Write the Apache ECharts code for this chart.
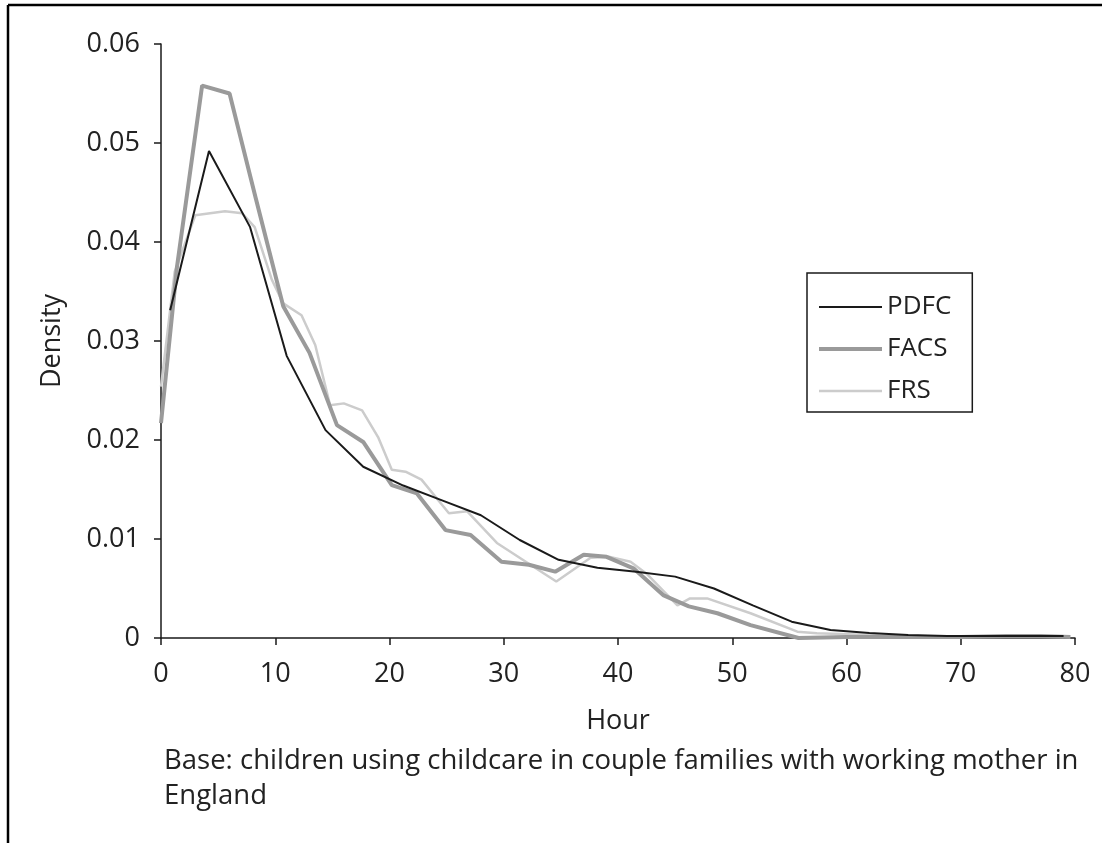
<!DOCTYPE html>
<html>
<head>
<meta charset="utf-8">
<script src="https://cdn.jsdelivr.net/npm/echarts@6/dist/echarts.min.js"></script>
<style>
html,body{margin:0;padding:0;background:#fff;}
#chart{width:1102px;height:843px;}
</style>
</head>
<body>
<div id="chart"></div>
<script>
const seriesNames = ['PDFC', 'FACS', 'FRS'];

const pdfcHours   = [0.8, 4.2, 7.8, 11.0, 14.4, 17.7, 21.2, 24.6, 28.0, 31.4, 34.8, 38.2, 41.6, 45.0, 48.4, 51.8, 55.2, 58.6, 62.0, 65.4, 68.8, 72.2, 75.6, 79.0];
const pdfcDensity = [0.0331, 0.0492, 0.0415, 0.0285, 0.0210, 0.0173, 0.0154, 0.0139, 0.0124, 0.0099, 0.0079, 0.0071, 0.0067, 0.0062, 0.0050, 0.0033, 0.00165, 0.0008, 0.0005, 0.0003, 0.0002, 0.0002, 0.0002, 0.0002];

const facsHours   = [0, 1.4, 3.6, 6.0, 8.3, 10.7, 13.0, 15.4, 17.7, 20.2, 22.4, 24.9, 27.1, 29.8, 32.2, 34.5, 37.0, 39.0, 41.4, 44.0, 46.2, 48.7, 51.6, 55.8, 60.0, 65.0, 70.0, 74.0, 77.0, 79.6];
const facsDensity = [0.0217, 0.0375, 0.0558, 0.0550, 0.0444, 0.0335, 0.0288, 0.0215, 0.0198, 0.01545, 0.0146, 0.0109, 0.0104, 0.0077, 0.0074, 0.0067, 0.0084, 0.0082, 0.0070, 0.0043, 0.0032, 0.0025, 0.0013, 0.0000, 0.0001, 0.0001, 0.0001, 0.0002, 0.0002, 0.0001];

const frsHours   = [0, 1.2, 3.0, 5.6, 7.1, 8.2, 9.7, 10.7, 12.3, 13.5, 14.8, 16.0, 17.6, 19.0, 20.2, 21.4, 22.8, 25.2, 26.8, 29.4, 32.2, 34.6, 37.6, 39.2, 41.1, 42.5, 45.2, 46.3, 47.8, 51.6, 55.7, 57.4, 62.1, 66.0, 70.0, 75.0, 79.0];
const frsDensity = [0.0254, 0.0370, 0.0427, 0.0431, 0.0429, 0.0415, 0.0362, 0.0338, 0.0326, 0.0296, 0.0235, 0.0237, 0.0230, 0.0203, 0.0170, 0.0168, 0.0160, 0.0126, 0.0128, 0.0096, 0.0075, 0.0057, 0.0081, 0.0082, 0.0077, 0.0065, 0.0033, 0.0040, 0.0040, 0.0025, 0.00064, 0.00047, 0.0003, 0.0001, 0.0001, 0.0001, 0.0001];

const xTicks = { min: 0, max: 80, interval: 10 };
const yTicks = { min: 0, max: 0.06, interval: 0.01 };

const xTitle = 'Hour';
const yTitle = 'Density';
const noteText = 'Base: children using childcare in couple families with working mother in\nEngland';

function pairs(xs, ys) { return xs.map((x, i) => [x, ys[i]]); }

const FONT = '"Open Sans", "Noto Sans", sans-serif';
const chart = echarts.init(document.getElementById('chart'), null, { renderer: 'canvas' });

const seriesColors = { PDFC: '#1a1a1a', FACS: '#9a9a9a', FRS: '#cccccc' };
const seriesWidths = { PDFC: 2, FACS: 4, FRS: 2.5 };

// legend icon: a horizontal bar of the series' line thickness, centred in a 63x14 box
function lineIcon(w) {
  const h = 14, a = (h - w) / 2, b = (h + w) / 2;
  return 'path://M0,0H63V0.01H0Z M0,' + a + 'H63V' + b + 'H0Z M0,13.99H63V14H0Z';
}

const option = {
  backgroundColor: '#ffffff',
  animation: false,
  grid: { left: 161, right: 27, top: 44, bottom: 205, containLabel: false },
  legend: {
    show: true,
    orient: 'vertical',
    left: 807, top: 273,
    padding: [19, 21, 6, 12],
    itemGap: 12,
    itemWidth: 63,
    itemHeight: 14,
    borderColor: '#1a1a1a',
    borderWidth: 1.5,
    textStyle: { fontFamily: FONT, fontSize: 26, lineHeight: 30, color: '#222' },
    data: seriesNames.map(n => ({ name: n, icon: lineIcon(seriesWidths[n]) }))
  },
  xAxis: {
    type: 'value',
    min: xTicks.min, max: xTicks.max, interval: xTicks.interval,
    name: xTitle, nameLocation: 'middle', nameGap: 70,
    nameTextStyle: { fontFamily: FONT, fontSize: 27, color: '#222' },
    axisLine: { lineStyle: { color: '#1a1a1a', width: 1.5 } },
    axisTick: { show: true, length: 7, lineStyle: { color: '#1a1a1a', width: 1.5 } },
    axisLabel: { fontFamily: FONT, fontSize: 27, color: '#222', margin: 23 },
    splitLine: { show: false }
  },
  yAxis: {
    type: 'value',
    min: yTicks.min, max: yTicks.max, interval: yTicks.interval,
    name: yTitle, nameLocation: 'middle', nameGap: 95, nameRotate: 90,
    nameTextStyle: { fontFamily: FONT, fontSize: 27, color: '#222' },
    axisLine: { show: true, lineStyle: { color: '#1a1a1a', width: 1.5 } },
    axisTick: { show: true, length: 7, lineStyle: { color: '#1a1a1a', width: 1.5 } },
    axisLabel: { fontFamily: FONT, fontSize: 27, color: '#222', margin: 21 },
    splitLine: { show: false }
  },
  series: [
    { name: 'PDFC', type: 'line', data: pairs(pdfcHours, pdfcDensity), symbol: 'none',
      lineStyle: { color: seriesColors.PDFC, width: seriesWidths.PDFC }, itemStyle: { color: seriesColors.PDFC }, z: 4 },
    { name: 'FACS', type: 'line', data: pairs(facsHours, facsDensity), symbol: 'none',
      lineStyle: { color: seriesColors.FACS, width: seriesWidths.FACS }, itemStyle: { color: seriesColors.FACS }, z: 3 },
    { name: 'FRS', type: 'line', data: pairs(frsHours, frsDensity), symbol: 'none',
      lineStyle: { color: seriesColors.FRS, width: seriesWidths.FRS }, itemStyle: { color: seriesColors.FRS }, z: 2 }
  ],
  graphic: [
    { type: 'line', shape: { x1: 8, y1: 5, x2: 1102, y2: 5 }, style: { stroke: '#000', lineWidth: 2.5 } },
    { type: 'line', shape: { x1: 8, y1: 5, x2: 8, y2: 843 }, style: { stroke: '#000', lineWidth: 2.5 } },
    { type: 'text', left: 164, top: 744,
      style: { text: noteText, fontFamily: FONT, fontSize: 27.5, fill: '#222', lineHeight: 35 } }
  ]
};
chart.setOption(option);
</script>
</body>
</html>
